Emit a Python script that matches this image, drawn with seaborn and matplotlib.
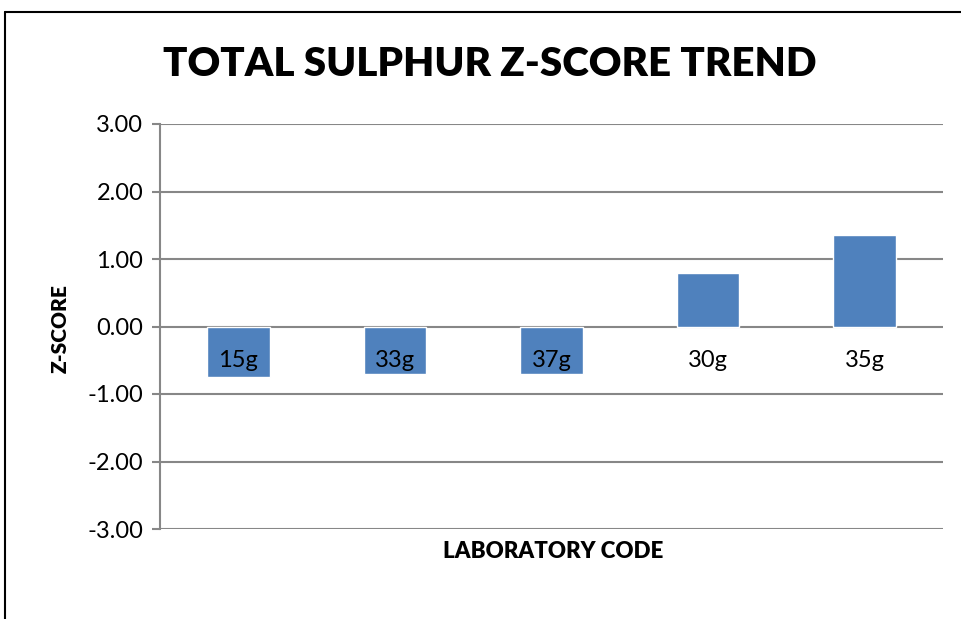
import matplotlib.pyplot as plt
import seaborn as sns
import pandas as pd

labs = ['15g', '33g', '37g', '30g', '35g']
zscores = [-0.75, -0.71, -0.70, 0.80, 1.35]
yticks = [-3, -2, -1, 0, 1, 2, 3]

df = pd.DataFrame({'lab': labs, 'z': zscores})

sns.set_style('white')
plt.rcParams['font.family'] = ['Lato', 'DejaVu Sans']
plt.rcParams['text.color'] = 'black'
plt.rcParams['xtick.labelcolor'] = 'black'
plt.rcParams['ytick.labelcolor'] = 'black'

fig = plt.figure(figsize=(9.61, 6.19), dpi=100)
ax = fig.add_axes([160/961, 90/619, 783/961, 405/619])

sns.barplot(data=df, x='lab', y='z', color='#4F81BD', width=0.4, saturation=1, ax=ax, zorder=3)

ax.set_ylim(-3, 3)
ax.set_yticks(yticks)
ax.set_yticklabels([f'{v:.2f}' for v in yticks], fontsize=17)
ax.grid(axis='y', color='#878787', linewidth=1.5, zorder=0)
ax.set_axisbelow(True)

# category labels sit on the zero line, like in excel
ax.spines['bottom'].set_position(('data', 0))
ax.spines['bottom'].set_visible(False)
ax.spines['top'].set_visible(False)
ax.spines['right'].set_visible(False)
ax.spines['left'].set_color('#878787')
ax.spines['left'].set_linewidth(1.5)
ax.tick_params(axis='x', length=0, pad=17, labelsize=17)
ax.tick_params(axis='y', left=True, length=6, width=1.5, color='#878787', pad=6)
ax.xaxis.set_zorder(5)

ax.set_xlabel('')
ax.set_ylabel('')
fig.text(553/961, 1 - 551/619, 'LABORATORY CODE', ha='center', va='center',
         fontsize=16, fontweight='heavy')
fig.text(60/961, 1 - 329/619, 'Z-SCORE', ha='center', va='center',
         rotation=90, fontsize=15, fontweight='heavy')
fig.text(490/961, 1 - 64/619, 'TOTAL SULPHUR Z-SCORE TREND', ha='center', va='center',
         fontsize=29, fontweight='heavy')

# outer chart frame (cut off at right and bottom)
fig.add_artist(plt.Line2D([5/961, 5/961], [0, 1 - 12/619], color='black', linewidth=1.5))
fig.add_artist(plt.Line2D([5/961, 1], [1 - 12/619, 1 - 12/619], color='black', linewidth=1.5))

fig.savefig('out.png', dpi=100)
